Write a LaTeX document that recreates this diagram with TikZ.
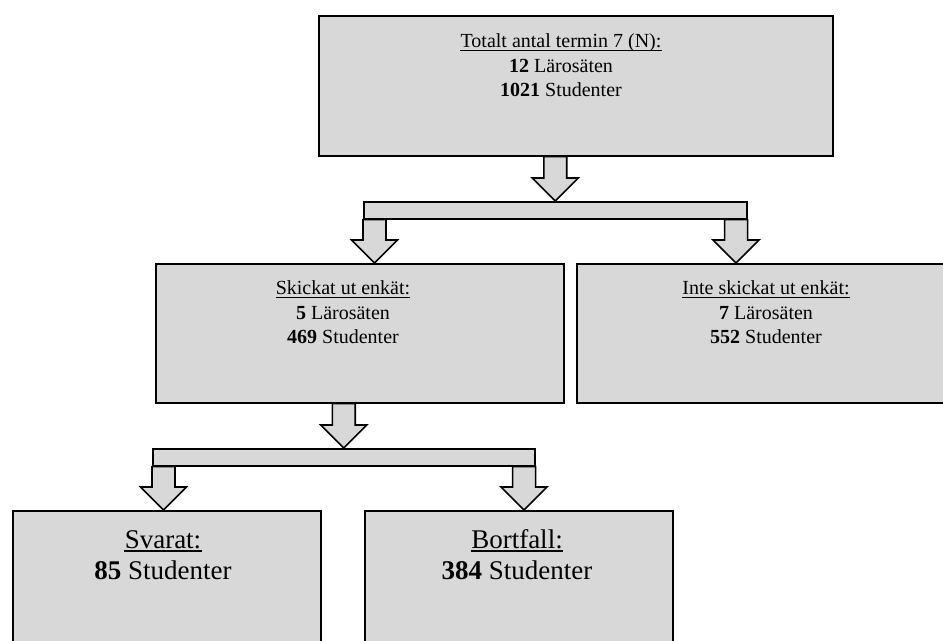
\documentclass[tikz,border=0pt]{standalone}
\usepackage{fontspec}
\setmainfont{Liberation Serif}
\usetikzlibrary{calc}
\definecolor{boxgray}{RGB}{216,216,216}
\tikzset{
  box/.style={draw=black, fill=boxgray, line width=1.2pt, rectangle, inner sep=0pt, anchor=north west},
  arrowbox/.style={draw=black, fill=boxgray, line width=1.2pt, line join=miter},
  txt/.style={inner sep=0pt, anchor=base, font=\fontsize{15}{18}\selectfont},
  bigtxt/.style={inner sep=0pt, anchor=base, font=\fontsize{20.25}{24}\selectfont},
  uline/.style={line width=1.1pt},
  biguline/.style={line width=1.4pt}
}
\newcommand\blockarr[2]{%
  \draw[arrowbox] let \p1=#1, \p2=#2 in
    (\x1-8.6pt,\y1) -- (\x1-8.6pt,\y2+17.25pt) -- (\x1-17.25pt,\y2+17.25pt) --
    (\x1,\y2) -- (\x1+17.25pt,\y2+17.25pt) -- (\x1+8.6pt,\y2+17.25pt) --
    (\x1+8.6pt,\y1) -- cycle;}
\begin{document}
\begin{tikzpicture}[x=0.75pt,y=-0.75pt]
\useasboundingbox (0,0) rectangle (943,641);
\begin{scope}
\clip (0,0) rectangle (943,641);
% boxes
\node[box, minimum width=514*0.75pt, minimum height=140*0.75pt] (top) at (318,15) {};
\node[box, minimum width=383*0.75pt, minimum height=17*0.75pt] (bar1) at (363,201) {};
\node[box, minimum width=408*0.75pt, minimum height=139*0.75pt] (ml) at (155,263) {};
\node[box, minimum width=390*0.75pt, minimum height=139*0.75pt] (mr) at (576,263) {};
\node[box, minimum width=382*0.75pt, minimum height=17*0.75pt] (bar2) at (152,448) {};
\node[box, minimum width=308*0.75pt, minimum height=200*0.75pt] (bl) at (12,510) {};
\node[box, minimum width=308*0.75pt, minimum height=200*0.75pt] (br) at (364,510) {};
% arrows
\blockarr{(top.south -| bar1.north)}{(bar1.north)}
\blockarr{($(bar1.south west)+(11.5,0)$)}{(ml.north)}
\blockarr{($(bar1.south east)+(-11.5,0)$)}{(mr.north)}
\blockarr{(ml.south -| bar2.north)}{(bar2.north)}
\blockarr{($(bar2.south west)+(11.5,0)$)}{(bl.north)}
\blockarr{($(bar2.south east)+(-11.5,0)$)}{(br.north)}
% texts top
\node[txt] (t1) at (561,48) {Totalt antal termin 7 (N):};
\node[txt] (t2) at (561,73) {\textbf{12} Lärosäten};
\node[txt] (t3) at (561,97) {\textbf{1021} Studenter};
\draw[uline] ([yshift=-1.9pt]t1.base west) -- ([yshift=-1.9pt]t1.base east);
% texts mid left
\node[txt] (l1) at (343,295) {Skickat ut enkät:};
\node[txt] (l2) at (343,320) {\textbf{5} Lärosäten};
\node[txt] (l3) at (343,344) {\textbf{469} Studenter};
\draw[uline] ([yshift=-1.9pt]l1.base west) -- ([yshift=-1.9pt]l1.base east);
% texts mid right
\node[txt] (r1) at (766,295) {Inte skickat ut enkät:};
\node[txt] (r2) at (766,320) {\textbf{7} Lärosäten};
\node[txt] (r3) at (766,344) {\textbf{552} Studenter};
\draw[uline] ([yshift=-1.9pt]r1.base west) -- ([yshift=-1.9pt]r1.base east);
% bottom texts
\node[bigtxt] (s1) at (163,548) {Svarat:};
\node[bigtxt] (s2) at (163,580) {\textbf{85} Studenter};
\draw[biguline] ([yshift=-2.3pt]s1.base west) -- ([yshift=-2.3pt]s1.base east);
\node[bigtxt] (b1) at (517,548) {Bortfall:};
\node[bigtxt] (b2) at (517,580) {\textbf{384} Studenter};
\draw[biguline] ([yshift=-2.3pt]b1.base west) -- ([yshift=-2.3pt]b1.base east);
\end{scope}
\end{tikzpicture}
\end{document}
